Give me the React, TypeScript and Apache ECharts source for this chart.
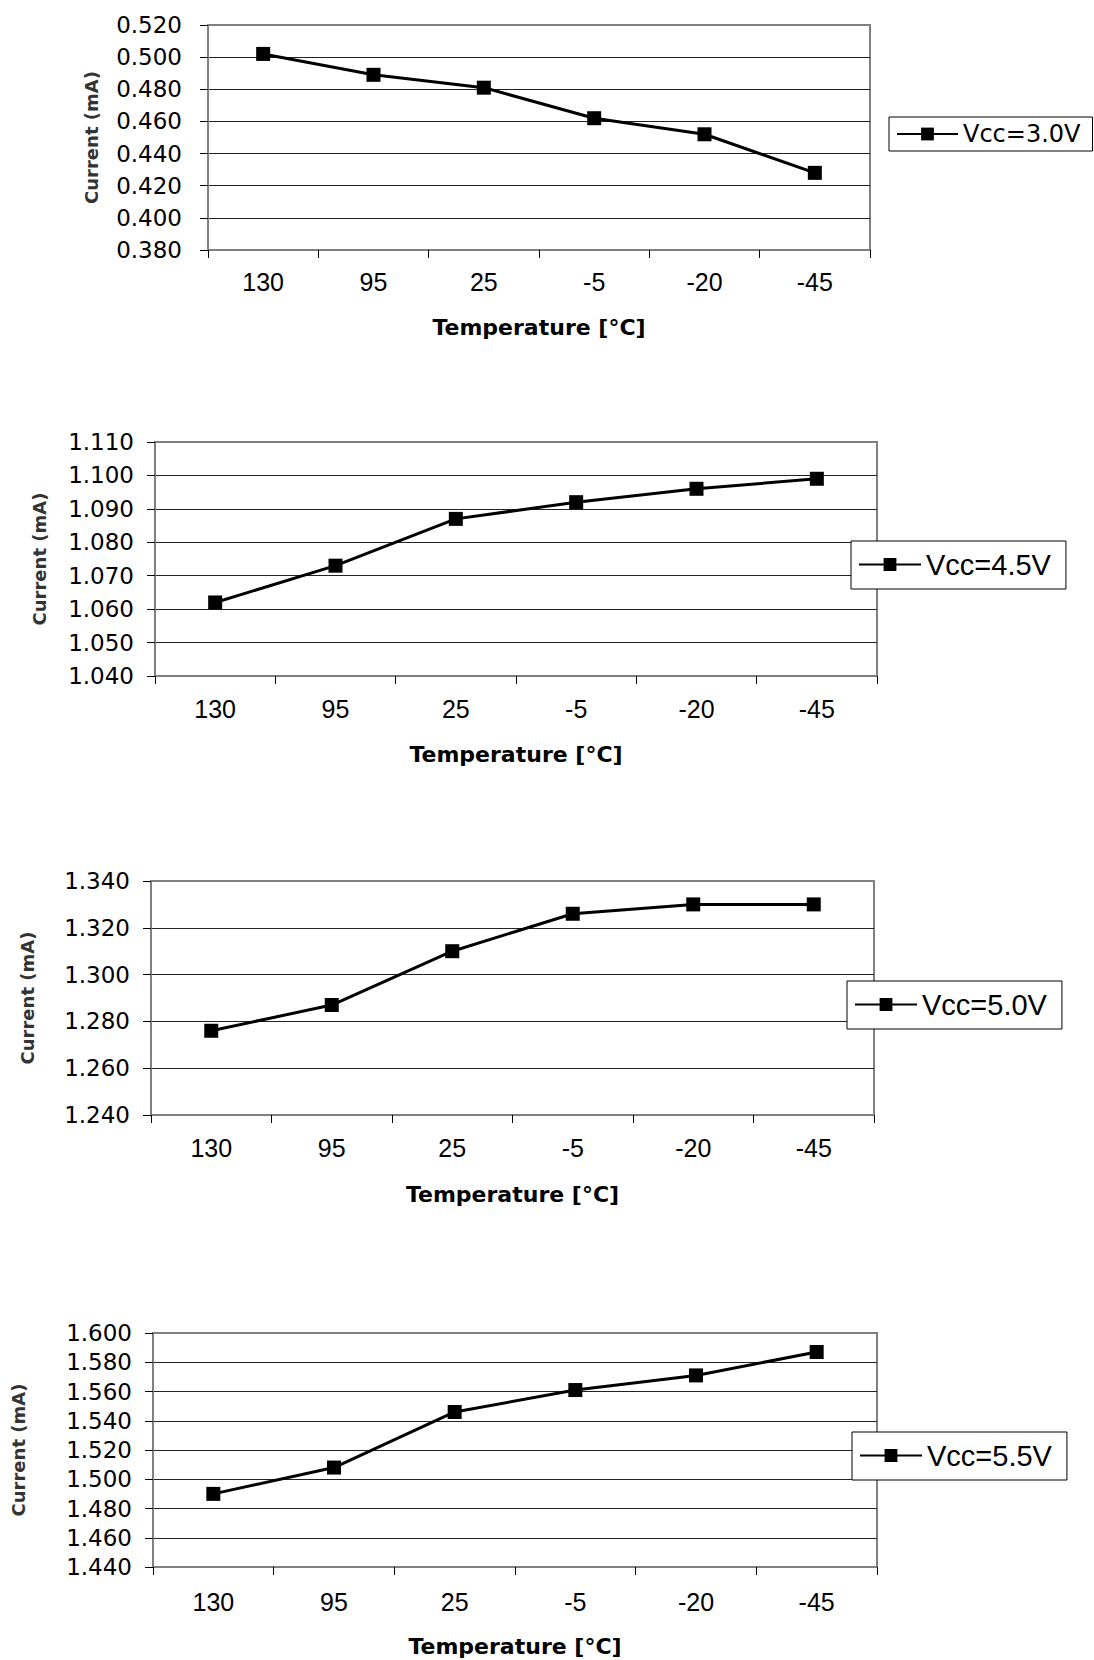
import React, { useEffect, useRef } from "react";
import * as echarts from "echarts";

// ---- data ----
const categories = ["130", "95", "25", "-5", "-20", "-45"];
const seriesNames = ["Vcc=3.0V", "Vcc=4.5V", "Vcc=5.0V", "Vcc=5.5V"];
const vcc30 = [0.502, 0.489, 0.481, 0.462, 0.452, 0.428];
const vcc45 = [1.062, 1.073, 1.087, 1.092, 1.096, 1.099];
const vcc50 = [1.276, 1.287, 1.31, 1.326, 1.33, 1.33];
const vcc55 = [1.49, 1.508, 1.546, 1.561, 1.571, 1.587];
const yMins = [0.38, 1.04, 1.24, 1.44];
const yMaxs = [0.52, 1.11, 1.34, 1.6];
const yIntervals = [0.02, 0.01, 0.02, 0.02];
const xAxisName = "Temperature [°C]";
const yAxisName = "Current (mA)";

// ---- layout (positions / styles only) ----
const grids = [
  { left: 208, top: 25, width: 662, height: 225 },
  { left: 155, top: 442, width: 722, height: 234 },
  { left: 151, top: 881, width: 723, height: 234 },
  { left: 153, top: 1333, width: 724, height: 234 },
];
const yLabelMargin = [26, 21, 21, 21];
const xLabelMargin = [19, 20, 20, 22];
const xNameGap = [66, 67, 68, 68];
const yNameGap = [108, 107, 115, 126];
const legendPos = [
  { left: 889, top: 117, padding: [5, 12, 5, 7], fontSize: 24, itemWidth: 61, font: "DejaVu Sans" },
  { left: 851, top: 541, padding: [9, 15, 10, 7], fontSize: 29, itemWidth: 62, font: "Liberation Sans" },
  { left: 847, top: 981, padding: [9, 15, 10, 7], fontSize: 29, itemWidth: 62, font: "Liberation Sans" },
  { left: 852, top: 1432, padding: [9, 15, 10, 7], fontSize: 29, itemWidth: 62, font: "Liberation Sans" },
];

const FONT = "DejaVu Sans";
const XFONT = "Liberation Sans";

export default function App() {
  const ref = useRef<HTMLDivElement>(null);
  useEffect(() => {
    document.body.style.margin = "0";
    if (!ref.current) return;
    const chart = echarts.init(ref.current, null, { renderer: "svg" });
    const values = [vcc30, vcc45, vcc50, vcc55];
    const option: any = {
      animation: false,
      backgroundColor: "#ffffff",
      grid: grids.map((g) => ({
        ...g,
        show: true,
        backgroundColor: "#ffffff",
        borderColor: "#808080",
        borderWidth: 2,
        containLabel: false,
      })),
      xAxis: grids.map((_, i) => ({
        type: "category",
        gridIndex: i,
        data: categories,
        boundaryGap: true,
        name: xAxisName,
        nameLocation: "middle",
        nameGap: xNameGap[i],
        nameTextStyle: { fontFamily: FONT, fontSize: 22, fontWeight: "bold", color: "#000" },
        axisLine: { show: true, lineStyle: { color: "#808080", width: 2 } },
        axisTick: { show: true, length: 8, lineStyle: { color: "#000", width: 1 } },
        axisLabel: { fontFamily: XFONT, fontSize: 25, color: "#000", margin: xLabelMargin[i] },
        splitLine: { show: false },
      })),
      yAxis: grids.map((_, i) => ({
        type: "value",
        gridIndex: i,
        min: yMins[i],
        max: yMaxs[i],
        interval: yIntervals[i],
        name: yAxisName,
        nameLocation: "middle",
        nameGap: yNameGap[i],
        nameTextStyle: { fontFamily: FONT, fontSize: 18, fontWeight: "bold", color: "#333" },
        axisLine: { show: true, lineStyle: { color: "#808080", width: 2 } },
        axisTick: { show: true, length: 8, lineStyle: { color: "#000", width: 1 } },
        axisLabel: {
          fontFamily: FONT,
          fontSize: 23,
          color: "#000",
          margin: yLabelMargin[i],
          formatter: (v: number) => v.toFixed(3),
        },
        splitLine: { show: true, showMinLine: false, showMaxLine: false, lineStyle: { color: "#222", width: 1 } },
      })),
      legend: legendPos.map((l, i) => ({
        data: [seriesNames[i]],
        left: l.left,
        top: l.top,
        orient: "horizontal",
        padding: l.padding,
        itemWidth: l.itemWidth,
        itemHeight: 16,
        borderColor: "#000",
        borderWidth: 1,
        borderRadius: 0,
        backgroundColor: "#fff",
        textStyle: { fontFamily: l.font, fontSize: l.fontSize, color: "#000" },
        selectedMode: false,
      })),
      series: values.map((vals, i) => ({
        type: "line",
        name: seriesNames[i],
        xAxisIndex: i,
        yAxisIndex: i,
        data: vals,
        symbol: "rect",
        symbolSize: 14,
        lineStyle: { color: "#000", width: 3 },
        itemStyle: { color: "#000" },
        z: 5,
      })),
    };
    chart.setOption(option);
    return () => chart.dispose();
  }, []);
  return <div ref={ref} style={{ width: 1094, height: 1660 }} />;
}
